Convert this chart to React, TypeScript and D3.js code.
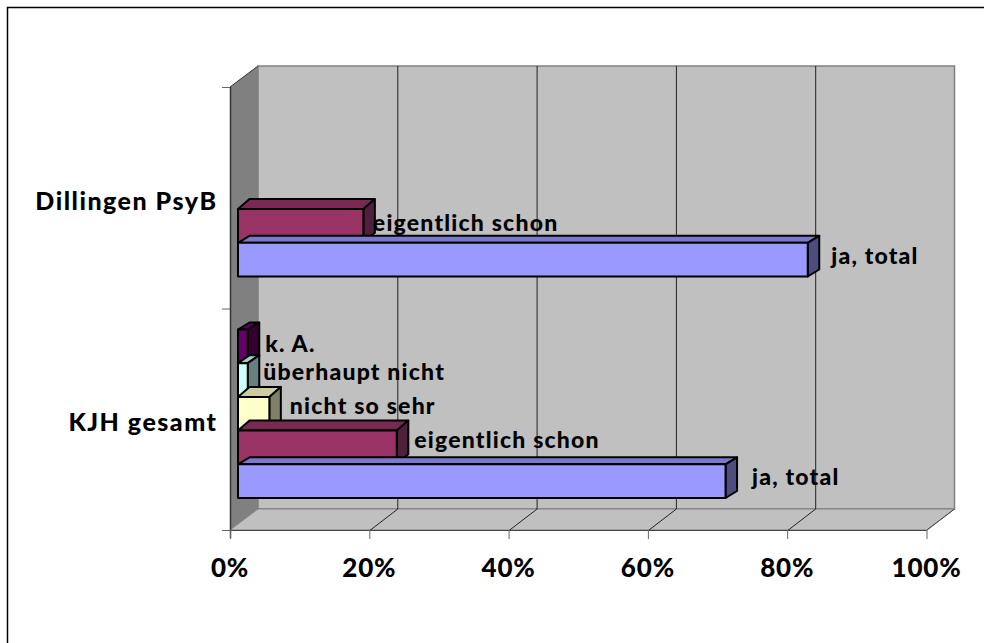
import React from "react";
import * as d3 from "d3";

const categories = ["Dillingen PsyB", "KJH gesamt"];
const seriesNames = ["k. A.", "überhaupt nicht", "nicht so sehr", "eigentlich schon", "ja, total"];
const dillingenValues = [0, 0, 0, 18, 81.8];
const kjhValues = [1.4, 1.4, 4.5, 22.8, 70];
const frontColors = ["#660066", "#ccffff", "#ffffcc", "#993366", "#9999ff"];
const sideColors = ["#33002f", "#668080", "#808066", "#4f1f3b", "#4d4d80"];
const topColors = ["#520052", "#a3cccc", "#cccca3", "#7a2952", "#7a7acc"];
const tickValues = [0, 20, 40, 60, 80, 100];

const width = 984;
const height = 643;
const font = "Lato, sans-serif";

// 3d offsets of the box
const backDx = 28;
const backDy = -21;
const barDx = 8;
const barDy = -5.5;
const barDepthX = 11.5;
const barDepthYs = [-7, -8, -10, -10, -7];

// label offsets, the original chart has them hand placed
const labelOffsets: Record<string, number[][]> = {
  "Dillingen PsyB": [[], [], [], [-2, 5.5], [12, 4]],
  "KJH gesamt": [[6, 6], [4, 0], [9, 0], [6, 1], [15, 4]],
};

export default function App() {
  const x = d3.scaleLinear().domain([0, 100]).range([230, 926.5]);
  const y = d3.scaleBand().domain(categories).range([87, 530]);
  const rows = [dillingenValues, kjhValues];

  const poly = (pts: number[][]) => d3.line()(pts as [number, number][]) + "Z";

  const x0 = x(0);
  const x1 = x(100);
  const y0 = y.range()[0];
  const y1 = y.range()[1];
  const yTicks = [y0, y0 + y.bandwidth(), y1];

  return (
    <svg width={width} height={height} style={{ position: "absolute", left: 0, top: 0 }}>
      <path d={`M7.5,${height}L7.5,7.5L${width},7.5`} fill="none" stroke="#000" strokeWidth={1.5} />

      <path d={poly([[x0 + backDx, y0 + backDy], [x1 + backDx, y0 + backDy], [x1 + backDx, y1 + backDy], [x0 + backDx, y1 + backDy]])} fill="#c0c0c0" stroke="#808080" strokeWidth={1.5} />
      <path d={poly([[x0, y0], [x0 + backDx, y0 + backDy], [x0 + backDx, y1 + backDy], [x0, y1]])} fill="#808080" />
      <path d={poly([[x0, y1], [x1, y1], [x1 + backDx, y1 + backDy], [x0 + backDx, y1 + backDy]])} fill="#c0c0c0" stroke="#808080" strokeWidth={1} />

      {tickValues.slice(1, -1).map(t => (
        <path key={t} d={`M${x(t) + 0.5},${y1 + 0.5}L${x(t) + backDx + 0.5},${y1 + backDy}L${x(t) + backDx + 0.5},${y0 + backDy}`} fill="none" stroke="#222" strokeWidth={1} />
      ))}

      <path d={`M${x0 + 0.5},${y0}L${x0 + 0.5},${y1 + 8}`} stroke="#333" strokeWidth={1.5} fill="none" />
      <path d={`M${x0},${y0}L${x0 + backDx},${y0 + backDy}`} stroke="#333" strokeWidth={1} fill="none" />
      <path d={`M${x0},${y1 + 0.5}L${x1},${y1 + 0.5}L${x1 + backDx},${y1 + backDy}`} stroke="#444" strokeWidth={1} fill="none" />
      {yTicks.map(t => (
        <path key={t} d={`M${x0 - 8},${t + 0.5}L${x0},${t + 0.5}`} stroke="#666" strokeWidth={1} />
      ))}
      {tickValues.map(t => (
        <g key={t}>
          <path d={`M${x(t) + 0.5},${y1}L${x(t) + 0.5},${y1 + 9}`} stroke="#666" strokeWidth={1} />
          <text x={x(t)} y={577} textAnchor="middle" fontFamily={font} fontWeight={900} fontSize={26} letterSpacing={0.8} fill="#000">
            {t}%
          </text>
        </g>
      ))}

      {categories.map(c => (
        <text key={c} x={217.5} y={(y(c) as number) + y.bandwidth() / 2 + 12} textAnchor="end" fontFamily={font} fontWeight={900} fontSize={25} letterSpacing={1.5} fill="#000">
          {c}
        </text>
      ))}

      {categories.map((c, ci) => {
        const inner = d3
          .scaleBand()
          .domain(seriesNames)
          .range([(y(c) as number) + barDy, (y(c) as number) + barDy + y.bandwidth()])
          .paddingInner(0)
          .paddingOuter(0.786);
        const barLeft = x(0) + barDx;
        // draw from the top down so lower bars overlap the depth of the upper ones
        return seriesNames.map((s, si) => {
          const v = rows[ci][si];
          if (!v) return null;
          const bw = inner.bandwidth();
          const top = inner(s) as number;
          const right = barLeft + x(v) - x(0);
          const off = labelOffsets[c][si];
          const dy = barDepthYs[si];
          return (
            <g key={c + s} stroke="#000" strokeWidth={2} strokeLinejoin="round">
              <path d={poly([[barLeft, top], [right, top], [right + barDepthX, top + dy], [barLeft + barDepthX, top + dy]])} fill={topColors[si]} />
              <path d={poly([[right, top], [right + barDepthX, top + dy], [right + barDepthX, top + bw + dy], [right, top + bw]])} fill={sideColors[si]} />
              <rect x={barLeft} y={top} width={right - barLeft} height={bw} fill={frontColors[si]} />
              <text x={right + barDepthX + off[0]} y={top + bw / 2 + off[1]} stroke="none" fontFamily={font} fontWeight={900} fontSize={23} letterSpacing={1.2} fill="#000">
                {s}
              </text>
            </g>
          );
        });
      })}
    </svg>
  );
}
